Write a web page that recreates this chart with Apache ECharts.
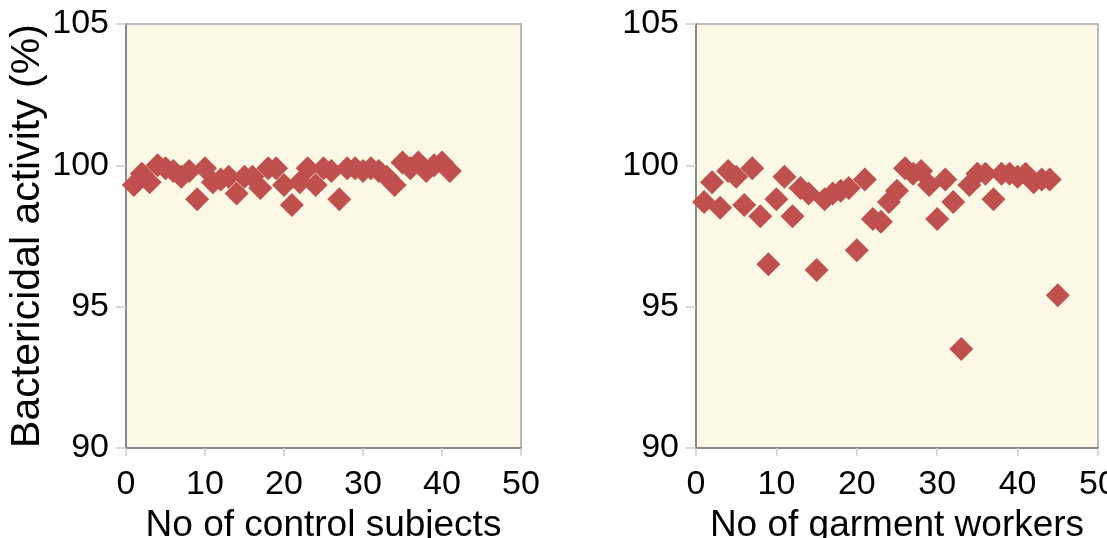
<!DOCTYPE html>
<html>
<head>
<meta charset="utf-8">
<script src="https://cdn.jsdelivr.net/npm/echarts@6/dist/echarts.min.js"></script>
<style>
  html, body { margin: 0; padding: 0; background: #fff; }
  #chart { width: 1107px; height: 538px; }
</style>
</head>
<body>
<div id="chart"></div>
<script>
// 对照组 (control subjects)
const controlX = [1, 2, 3, 4, 5, 6, 7, 8, 9, 10, 11, 12, 13, 14, 15, 16, 17, 18, 19, 20,
  21, 22, 23, 24, 25, 26, 27, 28, 29, 30, 31, 32, 33, 34, 35, 36, 37, 38, 39, 40, 41]
const controlY = [99.3, 99.7, 99.4, 100.0, 99.9, 99.8, 99.6, 99.8, 98.8, 99.9, 99.4, 99.5, 99.6, 99.0, 99.6, 99.6, 99.2, 99.9, 99.9, 99.3,
  98.6, 99.4, 99.9, 99.3, 99.9, 99.8, 98.8, 99.9, 99.9, 99.8, 99.9, 99.8, 99.6, 99.3, 100.1, 99.9, 100.1, 99.8, 100.0, 100.1, 99.8]

// 制衣工人 (garment workers)
const workerX = [1, 2, 3, 4, 5, 6, 7, 8, 9, 10, 11, 12, 13, 14, 15, 16, 17, 18, 19, 20,
  21, 22, 23, 24, 25, 26, 27, 28, 29, 30, 31, 32, 33, 34, 35, 36, 37, 38, 39, 40, 41, 42, 43, 44, 45]
const workerY = [98.7, 99.4, 98.5, 99.8, 99.6, 98.6, 99.9, 98.2, 96.5, 98.8, 99.6, 98.2, 99.2, 99.0, 96.3, 98.8, 99.0, 99.1, 99.2, 97.0,
  99.5, 98.1, 98.0, 98.7, 99.1, 99.9, 99.7, 99.8, 99.3, 98.1, 99.5, 98.7, 93.5, 99.3, 99.7, 99.7, 98.8, 99.7, 99.7, 99.6, 99.7, 99.4, 99.5, 99.5, 95.4]

const xTicks = [0, 10, 20, 30, 40, 50]
const yTicks = [90, 95, 100, 105]
const xNames = ['No of control subjects', 'No of garment workers']
const yName = 'Bactericidal activity (%)'

const font = 'Liberation Sans, Arial, sans-serif'
const markerColor = '#C0504D'

function toPairs(xs, ys) {
  return xs.map((x, i) => [x, ys[i]])
}

function xAxisOf(idx) {
  return {
    type: 'value',
    gridIndex: idx,
    min: xTicks[0],
    max: xTicks[xTicks.length - 1],
    interval: 10,
    name: xNames[idx],
    nameLocation: 'middle',
    nameGap: 56,
    nameTextStyle: { fontFamily: font, fontSize: 37, color: '#000' },
    axisLine: { lineStyle: { color: '#888', width: 2 } },
    axisTick: { show: true, length: 8, lineStyle: { color: '#ccc', width: 1.5 } },
    axisLabel: { fontFamily: font, fontSize: 34, color: '#000', margin: 20 },
    splitLine: { show: false }
  }
}

function yAxisOf(idx) {
  return {
    type: 'value',
    gridIndex: idx,
    min: yTicks[0],
    max: yTicks[yTicks.length - 1],
    interval: 5,
    name: idx === 0 ? yName : '',
    nameLocation: 'middle',
    nameGap: 62,
    nameTextStyle: { fontFamily: font, fontSize: 41, color: '#000' },
    axisLine: { show: true, lineStyle: { color: '#888', width: 2 } },
    axisTick: { show: true, length: 10, lineStyle: { color: '#ccc', width: 1.5 } },
    axisLabel: { fontFamily: font, fontSize: 34, color: '#000', margin: 17 },
    splitLine: { show: false }
  }
}

const chart = echarts.init(document.getElementById('chart'))
chart.setOption({
  animation: false,
  grid: [
    { left: 126, top: 24, width: 395, height: 424, outerBoundsMode: 'none', show: true, backgroundColor: '#FBF8E6', borderColor: '#bbb', borderWidth: 2 },
    { left: 696, top: 24, width: 402, height: 424, outerBoundsMode: 'none', show: true, backgroundColor: '#FBF8E6', borderColor: '#bbb', borderWidth: 2 }
  ],
  xAxis: [xAxisOf(0), xAxisOf(1)],
  yAxis: [yAxisOf(0), yAxisOf(1)],
  series: [
    {
      type: 'scatter',
      xAxisIndex: 0,
      yAxisIndex: 0,
      symbol: 'diamond',
      symbolSize: 24,
      itemStyle: { color: markerColor, opacity: 1 },
      data: toPairs(controlX, controlY)
    },
    {
      type: 'scatter',
      xAxisIndex: 1,
      yAxisIndex: 1,
      symbol: 'diamond',
      symbolSize: 24,
      itemStyle: { color: markerColor, opacity: 1 },
      data: toPairs(workerX, workerY)
    }
  ]
})
</script>
</body>
</html>
